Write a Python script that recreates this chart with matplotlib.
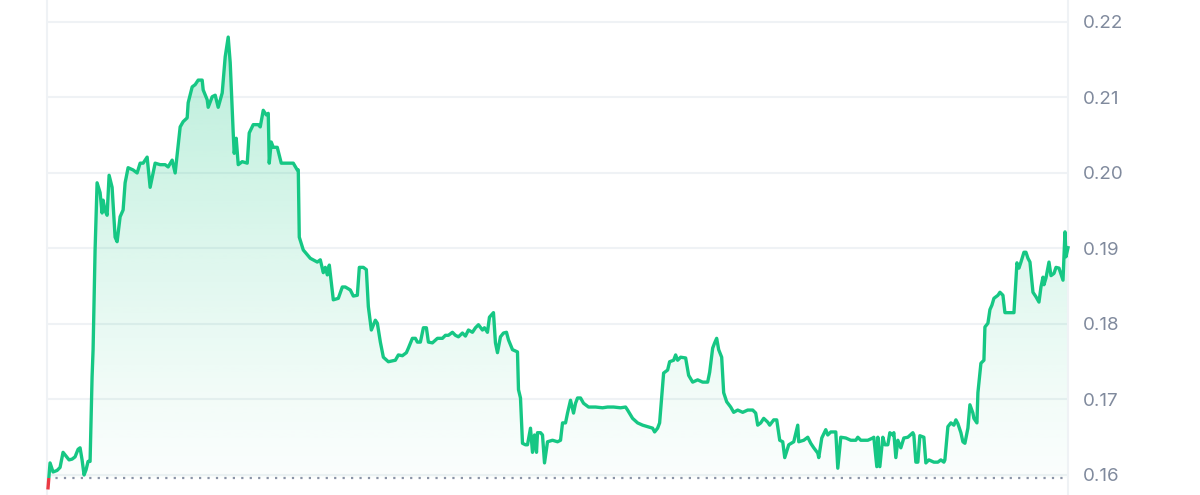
import matplotlib.pyplot as plt
import numpy as np
from matplotlib.patches import Rectangle

plt.rcParams['font.family'] = ['Inter', 'DejaVu Sans']

# time position and price
t = [0, 2, 5, 9, 12, 15, 18, 21, 24, 27, 30, 32, 34, 36, 38, 40, 42, 44, 45, 47,
     49, 52, 54, 55, 57, 59, 61, 64, 67, 69, 72, 75, 77, 80, 85, 89, 92, 95, 99, 102,
     107, 112, 117, 120, 124, 127, 129, 132, 135, 139, 140, 144, 147, 150, 154, 155, 159, 160, 164, 167,
     170, 174, 177, 180, 182, 185, 186, 188, 190, 194, 199, 201, 205, 210, 212, 215, 218, 220, 221, 223,
     225, 229, 233, 239, 245, 249, 250, 251, 255, 262, 269, 272, 275, 277, 279, 281, 285, 290, 294, 297,
     302, 305, 309, 311, 315, 318, 320, 323, 327, 329, 332, 335, 340, 347, 350, 354, 358, 360, 364, 367,
     369, 372, 375, 378, 380, 384, 389, 394, 397, 400, 404, 407, 410, 414, 417, 420, 424, 427, 430, 434,
     436, 439, 441, 445, 447, 449, 452, 455, 458, 460, 464, 469, 470, 472, 474, 477, 479, 482, 484, 486,
     488, 489, 492, 494, 496, 499, 504, 509, 512, 514, 517, 519, 522, 525, 527, 529, 532, 535, 540, 547,
     554, 559, 565, 572, 577, 579, 584, 589, 594, 599, 604, 606, 609, 611, 615, 619, 621, 625, 627, 629,
     632, 637, 640, 644, 649, 654, 659, 661, 664, 666, 668, 670, 673, 675, 678, 682, 685, 689, 694, 699,
     704, 707, 709, 712, 715, 719, 721, 725, 728, 731, 734, 736, 740, 745, 749, 750, 755, 759, 762, 765,
     769, 770, 773, 777, 779, 782, 787, 789, 792, 797, 802, 807, 809, 812, 819, 824, 825, 828, 829, 831,
     834, 836, 839, 841, 844, 845, 847, 849, 852, 855, 859, 864, 865, 867, 869, 871, 875, 877, 880, 885,
     889, 892, 895, 896, 899, 902, 905, 907, 909, 912, 914, 916, 919, 921, 924, 925, 928, 929, 932, 935,
     936, 939, 941, 943, 945, 949, 951, 954, 956, 960, 965, 968, 970, 972, 975, 977, 979, 981, 984, 987,
     990, 992, 994, 995, 997, 1000, 1002, 1005, 1007, 1010, 1014, 1016, 1017, 1019, 1020]
price = [0.1583, 0.1616, 0.1604, 0.1606, 0.1610, 0.1630, 0.1625, 0.1620, 0.1621, 0.1624, 0.1634, 0.1636, 0.1620, 0.1600, 0.1607, 0.1618, 0.1618, 0.1730, 0.1766, 0.1898,
         0.1987, 0.1974, 0.1947, 0.1964, 0.1950, 0.1944, 0.1997, 0.1981, 0.1915, 0.1909, 0.1942, 0.1951, 0.1987, 0.2007, 0.2004, 0.2000, 0.2013, 0.2013, 0.2021, 0.1981,
         0.2013, 0.2011, 0.2011, 0.2008, 0.2017, 0.2000, 0.2024, 0.2061, 0.2068, 0.2073, 0.2093, 0.2114, 0.2117, 0.2123, 0.2123, 0.2110, 0.2097, 0.2087, 0.2101, 0.2103,
         0.2087, 0.2106, 0.2154, 0.2180, 0.2146, 0.2053, 0.2026, 0.2046, 0.2011, 0.2015, 0.2013, 0.2053, 0.2064, 0.2064, 0.2061, 0.2083, 0.2077, 0.2079, 0.2013, 0.2041,
         0.2034, 0.2034, 0.2013, 0.2013, 0.2013, 0.2004, 0.2004, 0.1915, 0.1898, 0.1887, 0.1882, 0.1885, 0.1868, 0.1875, 0.1865, 0.1878, 0.1832, 0.1834, 0.1849, 0.1849,
         0.1845, 0.1837, 0.1838, 0.1875, 0.1875, 0.1872, 0.1823, 0.1792, 0.1805, 0.1801, 0.1776, 0.1756, 0.1750, 0.1752, 0.1759, 0.1758, 0.1762, 0.1768, 0.1781, 0.1781,
         0.1776, 0.1776, 0.1795, 0.1795, 0.1776, 0.1775, 0.1781, 0.1781, 0.1785, 0.1785, 0.1789, 0.1785, 0.1783, 0.1788, 0.1784, 0.1792, 0.1789, 0.1795, 0.1799, 0.1792,
         0.1795, 0.1789, 0.1809, 0.1815, 0.1775, 0.1762, 0.1783, 0.1788, 0.1789, 0.1779, 0.1766, 0.1763, 0.1713, 0.1702, 0.1642, 0.1640, 0.1640, 0.1662, 0.1630, 0.1653,
         0.1630, 0.1656, 0.1656, 0.1653, 0.1616, 0.1644, 0.1646, 0.1644, 0.1646, 0.1669, 0.1669, 0.1682, 0.1699, 0.1682, 0.1695, 0.1702, 0.1702, 0.1695, 0.1690, 0.1690,
         0.1689, 0.1690, 0.1690, 0.1689, 0.1690, 0.1686, 0.1675, 0.1669, 0.1666, 0.1664, 0.1662, 0.1657, 0.1662, 0.1669, 0.1735, 0.1739, 0.1750, 0.1752, 0.1759, 0.1752,
         0.1756, 0.1755, 0.1732, 0.1723, 0.1726, 0.1723, 0.1723, 0.1736, 0.1768, 0.1775, 0.1781, 0.1766, 0.1756, 0.1709, 0.1697, 0.1690, 0.1683, 0.1686, 0.1683, 0.1686,
         0.1686, 0.1682, 0.1666, 0.1669, 0.1675, 0.1670, 0.1666, 0.1673, 0.1673, 0.1646, 0.1644, 0.1623, 0.1640, 0.1644, 0.1666, 0.1644, 0.1646, 0.1650, 0.1642, 0.1636,
         0.1629, 0.1623, 0.1649, 0.1660, 0.1653, 0.1657, 0.1657, 0.1609, 0.1650, 0.1649, 0.1646, 0.1646, 0.1650, 0.1646, 0.1646, 0.1649, 0.1650, 0.1611, 0.1650, 0.1611,
         0.1650, 0.1640, 0.1640, 0.1656, 0.1653, 0.1656, 0.1623, 0.1646, 0.1636, 0.1649, 0.1650, 0.1656, 0.1653, 0.1617, 0.1617, 0.1652, 0.1650, 0.1616, 0.1620, 0.1617,
         0.1617, 0.1620, 0.1617, 0.1620, 0.1664, 0.1669, 0.1666, 0.1673, 0.1668, 0.1656, 0.1644, 0.1642, 0.1662, 0.1693, 0.1682, 0.1675, 0.1669, 0.1709, 0.1748, 0.1752,
         0.1796, 0.1801, 0.1819, 0.1825, 0.1834, 0.1838, 0.1842, 0.1838, 0.1815, 0.1815, 0.1815, 0.1881, 0.1874, 0.1882, 0.1895, 0.1895, 0.1887, 0.1882, 0.1842, 0.1836,
         0.1829, 0.1849, 0.1862, 0.1852, 0.1861, 0.1882, 0.1864, 0.1867, 0.1875, 0.1874, 0.1858, 0.1922, 0.1889, 0.1901]
baseline = 0.1596
yticks = [0.16, 0.17, 0.18, 0.19, 0.20, 0.21, 0.22]

t = np.array(t[:len(price)], dtype=float)
price = np.array(price)

green = "#16c784"
red = "#ea3943"

fig = plt.figure(figsize=(12, 4.95), dpi=100)
ax = fig.add_axes([0.0392, 0.0, 0.8508, 1.0])
ymin, ymax = 0.15735, 0.22291
ax.set_xlim(-1, t[-1])
ax.set_ylim(ymin, ymax)

# gradient fill under the line, clipped to the area between line and baseline
poly = ax.fill_between(t, price, baseline, where=price >= baseline, interpolate=True,
                       color="none", linewidth=0)
grad = np.linspace(0.0, 1.0, 256).reshape(-1, 1)
rgba = np.zeros((256, 1, 4))
rgba[..., 0] = 0x16 / 255
rgba[..., 1] = 0xc7 / 255
rgba[..., 2] = 0x84 / 255
rgba[..., 3] = 0.02 + 0.28 * grad ** 1.2
img = ax.imshow(rgba, extent=[t[0], t[-1], baseline, price.max()], origin="lower",
                aspect="auto", zorder=1, interpolation="bilinear")
for p in poly.get_paths():
    img.set_clip_path(p, transform=ax.transData)

# line: green above baseline, red below it
up = ax.plot(t, price, color=green, lw=2.4, zorder=3, solid_joinstyle="round")[0]
down = ax.plot(t, price, color=red, lw=2.4, zorder=3, solid_joinstyle="round")[0]
clip_up = Rectangle((t[0] - 10, baseline), t[-1] + 20, 1, transform=ax.transData)
clip_down = Rectangle((t[0] - 10, baseline - 1), t[-1] + 20, 1, transform=ax.transData)
up.set_clip_path(clip_up)
down.set_clip_path(clip_down)

ax.axhline(baseline, color="#8a93a6", lw=1.6, ls=(0, (1, 2.8)), zorder=2)

for s in ["top", "bottom"]:
    ax.spines[s].set_visible(False)
for s in ["left", "right"]:
    ax.spines[s].set_color("#eff2f5")
    ax.spines[s].set_linewidth(1.5)

ax.set_yticks(yticks)
ax.set_yticklabels([f"{v:.2f}" for v in yticks])
ax.yaxis.tick_right()
ax.tick_params(axis="y", length=0, pad=11, labelsize=13.5, labelcolor="#808a9d")
ax.set_xticks([])
ax.grid(axis="y", color="#eff2f5", lw=1.5, zorder=0)
ax.set_axisbelow(True)

fig.savefig("out.png", dpi=100)
